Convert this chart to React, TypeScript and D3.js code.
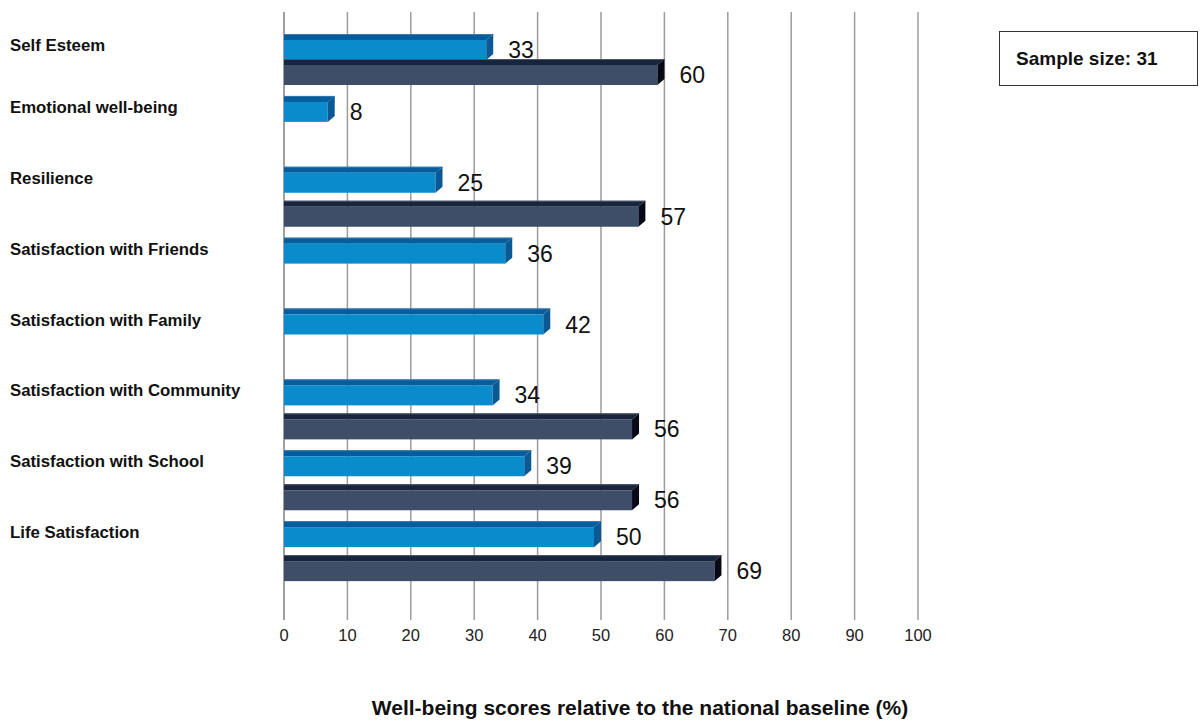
import React from "react";
import * as d3 from "d3";

const categories = [
  "Self Esteem",
  "Emotional well-being",
  "Resilience",
  "Satisfaction with Friends",
  "Satisfaction with Family",
  "Satisfaction with Community",
  "Satisfaction with School",
  "Life Satisfaction",
];
const schoolScores: (number | null)[] = [33, 8, 25, 36, 42, 34, 39, 50];
const baselineScores: (number | null)[] = [60, null, 57, null, null, 56, 56, 69];
const xTicks = [0, 10, 20, 30, 40, 50, 60, 70, 80, 90, 100];
const axisTitle = "Well-being scores relative to the national baseline (%)";
const sampleText = "Sample size: 31";

const W = 1201;
const H = 722;
const FONT = "'Liberation Sans', Arial, sans-serif";

const x = d3.scaleLinear().domain([0, 100]).range([284, 918]);
const y = d3.scaleBand<string>().domain(categories).range([25, 592]);
const PLOT_TOP_BAR = 34;
const DEPTH_X = 7;
const DEPTH_Y = 6;
const FRONT_H = 20;

const blueStyle = { front: "#0a8bcb", top: "#055d9e", edge: "#3a78ad", end: "#0a5894" };
const darkStyle = { front: "#3e4d68", top: "#19243d", edge: "#4a556a", end: "#070a16" };

function Bar3D({ v, y0, s }: { v: number; y0: number; s: typeof blueStyle }) {
  const x0 = x(0);
  const xb = x(v);
  const xf = xb - DEPTH_X;
  const top = `M${x0},${y0} L${xb},${y0} L${xf},${y0 + DEPTH_Y} L${x0},${y0 + DEPTH_Y} Z`;
  const end = `M${xf},${y0 + DEPTH_Y} L${xb},${y0} L${xb},${y0 + FRONT_H} L${xf},${y0 + DEPTH_Y + FRONT_H} Z`;
  return (
    <g>
      <path d={top} fill={s.top} />
      <line x1={x0} x2={xb} y1={y0 + 0.5} y2={y0 + 0.5} stroke={s.edge} strokeWidth={1} />
      <rect x={x0} y={y0 + DEPTH_Y} width={Math.max(0, xf - x0)} height={FRONT_H} fill={s.front} />
      <path d={end} fill={s.end} />
    </g>
  );
}

export default function App() {
  return (
    <svg width={W} height={H} style={{ position: "absolute", left: 0, top: 0, background: "#fff" }}>
      {xTicks.map((t) => (
        <line key={t} x1={x(t)} x2={x(t)} y1={12} y2={620} stroke={t === 0 ? "#808080" : "#9c9c9c"} strokeWidth={1.5} />
      ))}
      {categories.map((c, i) => {
        const band = y(c) as number;
        const by = Math.max(band, PLOT_TOP_BAR);
        const dy = band + 34;
        const a = schoolScores[i];
        const b = baselineScores[i];
        return (
          <g key={c}>
            {a != null && <Bar3D v={a} y0={by} s={blueStyle} />}
            {b != null && <Bar3D v={b} y0={dy} s={darkStyle} />}
          </g>
        );
      })}
      {categories.map((c, i) => {
        const band = y(c) as number;
        const by = Math.max(band, PLOT_TOP_BAR);
        const dy = band + 34;
        const a = schoolScores[i];
        const b = baselineScores[i];
        return (
          <g key={"l" + c} fontFamily={FONT} fontSize={23} fill="#111">
            {a != null && <text x={x(a) + 15} y={by + DEPTH_Y + FRONT_H / 2 + 8}>{a}</text>}
            {b != null && <text x={x(b) + 15} y={dy + DEPTH_Y + FRONT_H / 2 + 8}>{b}</text>}
          </g>
        );
      })}
      {categories.map((c) => {
        const band = y(c) as number;
        const by = Math.max(band, PLOT_TOP_BAR);
        return (
          <text key={"c" + c} x={10} y={by + 17} fontFamily={FONT} fontSize={16.8} fontWeight="bold" fill="#111">
            {c}
          </text>
        );
      })}
      {xTicks.map((t) => (
        <text key={"t" + t} x={x(t)} y={641} textAnchor="middle" fontFamily={FONT} fontSize={16.5} fill="#222">
          {t}
        </text>
      ))}
      <text x={640} y={715} textAnchor="middle" fontFamily={FONT} fontSize={21} fontWeight="bold" fill="#111">
        {axisTitle}
      </text>
      <rect x={999.5} y={31.5} width={198} height={54} fill="#fff" stroke="#333" strokeWidth={1} />
      <text x={1016} y={65} fontFamily={FONT} fontSize={19} fontWeight="bold" fill="#111">
        {sampleText}
      </text>
    </svg>
  );
}
